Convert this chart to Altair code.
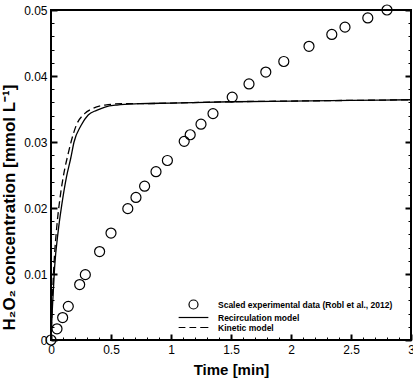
import altair as alt
import pandas as pd

# ---- data ----
LEG_EXP = "Scaled experimental data (Robl et al., 2012)"
LEG_REC = "Recirculation model"
LEG_KIN = "Kinetic model"

t_exp = [0, 0.05, 0.097, 0.144, 0.239, 0.286, 0.405, 0.50, 0.64, 0.708, 0.78, 0.875, 0.97,
         1.11, 1.16, 1.25, 1.35, 1.51, 1.65, 1.79, 1.94, 2.15, 2.34, 2.45, 2.64, 2.80]
c_exp = [0, 0.0017, 0.0034, 0.0051, 0.0084, 0.0099, 0.0134, 0.0162, 0.0199, 0.0216, 0.0233, 0.0255, 0.0272,
         0.0301, 0.0311, 0.0327, 0.0343, 0.0368, 0.0388, 0.0406, 0.0422, 0.0445, 0.0463, 0.0474, 0.0488, 0.0500]

t_rec = [0, 0.012, 0.03, 0.06, 0.09, 0.13, 0.164, 0.192, 0.25, 0.31, 0.38, 0.45, 0.55, 0.74,
         1.0, 1.5, 2.0, 2.5, 3.0]
c_rec = [0, 0.005, 0.011, 0.0165, 0.0205, 0.0248, 0.0275, 0.030, 0.0325, 0.0341, 0.0348, 0.0353, 0.0356, 0.0358,
         0.0359, 0.0361, 0.0362, 0.0363, 0.0364]

t_kin = [0, 0.01, 0.025, 0.05, 0.075, 0.11, 0.14, 0.167, 0.21, 0.28, 0.35, 0.45, 0.6, 0.74,
         1.0, 1.5, 2.0, 2.5, 3.0]
c_kin = [0, 0.0055, 0.0115, 0.0175, 0.0215, 0.0255, 0.028, 0.030, 0.0325, 0.0343, 0.0351, 0.0356, 0.0358, 0.0358,
         0.0359, 0.0361, 0.0362, 0.0363, 0.0364]

x_major = [0, 0.5, 1, 1.5, 2, 2.5, 3]
x_minor = [0, 0.1, 0.2, 0.3, 0.4, 0.5, 0.6, 0.7, 0.8, 0.9, 1.0, 1.1, 1.2, 1.3, 1.4, 1.5, 1.6, 1.7, 1.8,
           1.9, 2.0, 2.1, 2.2, 2.3, 2.4, 2.5, 2.6, 2.7, 2.8, 2.9, 3.0]
y_major = [0, 0.01, 0.02, 0.03, 0.04, 0.05]
y_minor = [0, 0.002, 0.004, 0.006, 0.008, 0.01, 0.012, 0.014, 0.016, 0.018, 0.02, 0.022, 0.024, 0.026,
           0.028, 0.03, 0.032, 0.034, 0.036, 0.038, 0.04, 0.042, 0.044, 0.046, 0.048, 0.05]

exp_df = pd.DataFrame({"t": t_exp, "c": c_exp, "series": LEG_EXP})
rec_df = pd.DataFrame({"t": t_rec, "c": c_rec, "series": LEG_REC})
kin_df = pd.DataFrame({"t": t_kin, "c": c_kin, "series": LEG_KIN})

FONT = "Liberation Sans"
xs = alt.Scale(domain=[0, 3], nice=False, zero=False)
ys = alt.Scale(domain=[0, 0.05], nice=False, zero=False)


def tick_axis(values, size, width, orient):
    return alt.Axis(values=values, labels=False, domain=False, grid=False, ticks=True,
                    tickSize=size, tickWidth=width, tickColor="black", offset=-size,
                    orient=orient, title=None)


x_label_axis = alt.Axis(values=x_major, format="~g", ticks=False, tickSize=0, domain=False, grid=False,
                        labelFont=FONT, labelFontSize=12, labelColor="black", labelPadding=4,
                        labelFlush=False, labelOverlap=False,
                        title="Time [min]", titleFont=FONT, titleFontSize=15, titleFontWeight="bold",
                        titleColor="black", titlePadding=7, orient="bottom")
y_label_axis = alt.Axis(values=y_major, format="~g", ticks=False, tickSize=0, domain=False, grid=False,
                        labelFont=FONT, labelFontSize=12, labelColor="black", labelPadding=4,
                        labelFlush=False, labelOverlap=False,
                        title="H₂O₂ concentration [mmol L⁻¹]", titleFont=FONT, titleFontSize=17,
                        titleFontWeight="bold", titleColor="black", titleX=-33, titleY=197,
                        titleBaseline="bottom", titleAlign="center", orient="left")

path_solid = "M-3,0L3,0"
path_dash = "M-3,0L-1.6,0M-0.8,0L0.6,0M1.4,0L3,0"

legend = alt.Legend(title=None, orient="none", legendX=137, legendY=289, padding=0,
                    labelFont=FONT, labelFontSize=8.5, labelFontWeight="bold", labelColor="black",
                    symbolSize=81, symbolStrokeColor="black", symbolStrokeWidth=1.2,
                    symbolFillColor="transparent", rowPadding=0, labelOffset=19, labelLimit=400)

path_solid = "M-3.3,0L3.3,0"
path_dash = "M-3.3,0L-1.8,0M-0.9,0L0.6,0M1.5,0L3.3,0"

points = alt.Chart(exp_df).mark_point(filled=False, color="black", size=100, strokeWidth=1.2, opacity=1).encode(
    x=alt.X("t:Q", scale=xs, axis=x_label_axis),
    y=alt.Y("c:Q", scale=ys, axis=y_label_axis),
    shape=alt.Shape("series:N", scale=alt.Scale(domain=[LEG_EXP, LEG_REC, LEG_KIN],
                                                range=["circle", path_solid, path_dash]), legend=legend),
)

solid = alt.Chart(rec_df).mark_line(color="black", strokeWidth=1.3, interpolate="monotone").encode(
    x=alt.X("t:Q", scale=xs, axis=tick_axis(x_major, 6, 2, "bottom")),
    y=alt.Y("c:Q", scale=ys, axis=tick_axis(y_major, 6, 2, "left")),
)

dashed = alt.Chart(kin_df).mark_line(color="black", strokeWidth=1.3, strokeDash=[7, 4],
                                     interpolate="monotone").encode(
    x=alt.X("t:Q", scale=xs, axis=tick_axis(x_minor, 3, 1, "bottom")),
    y=alt.Y("c:Q", scale=ys, axis=tick_axis(y_minor, 3, 1, "left")),
)

right_major = alt.Chart(exp_df).mark_point(opacity=0).encode(
    x=alt.X("t:Q", scale=xs, axis=None),
    y=alt.Y("c:Q", scale=ys, axis=tick_axis(y_major, 6, 2, "right")),
)
right_minor = alt.Chart(exp_df).mark_point(opacity=0).encode(
    x=alt.X("t:Q", scale=xs, axis=None),
    y=alt.Y("c:Q", scale=ys, axis=tick_axis(y_minor, 3, 1, "right")),
)

chart = alt.layer(points, solid, dashed, right_major, right_minor).resolve_axis(
    x="independent", y="independent"
).properties(
    width=360, height=330,
    autosize=alt.AutoSizeParams(type="none"),
    padding={"left": 51, "top": 10, "right": 2, "bottom": 40},
    background="white",
).configure_view(stroke="black", strokeWidth=2)

chart.save("out.html", embed_options={"renderer": "svg", "actions": False})
